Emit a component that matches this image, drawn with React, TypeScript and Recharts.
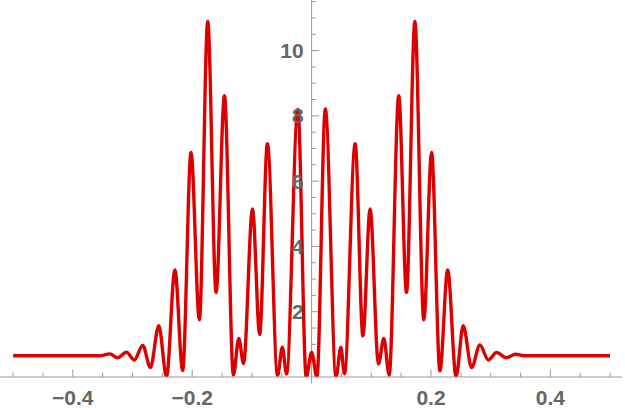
import React from "react";
import { LineChart, Line, XAxis, YAxis, ReferenceLine } from "recharts";

// extrema of the curve (left to right)
const xValues = [
  -0.5, -0.355, -0.338, -0.325, -0.31, -0.297, -0.283, -0.27, -0.256, -0.243,
  -0.229, -0.216, -0.202, -0.188, -0.174, -0.16, -0.146, -0.131, -0.122, -0.114,
  -0.099, -0.087, -0.074, -0.057, -0.049, -0.042, -0.023, -0.009, 0,
  0.009, 0.023, 0.041, 0.049, 0.055, 0.073, 0.086, 0.098, 0.112, 0.121,
  0.13, 0.146, 0.159, 0.173, 0.188, 0.201, 0.215, 0.228, 0.242, 0.254,
  0.268, 0.282, 0.296, 0.31, 0.326, 0.342, 0.355, 0.5,
];
const yValues = [
  0.65, 0.65, 0.71, 0.59, 0.76, 0.52, 0.97, 0.29, 1.57, 0.01,
  3.28, 0.2, 6.88, 1.75, 10.89, 2.59, 8.62, 0.06, 1.18, 0.41,
  5.15, 1.3, 7.15, 0.05, 0.91, 0.09, 8.2, 0, 0.75,
  0, 8.21, 0, 0.91, 0.1, 7.15, 1.26, 5.15, 0.4, 1.18,
  0.06, 8.62, 2.59, 10.89, 1.75, 6.88, 0.19, 3.28, 0.01, 1.57,
  0.29, 0.98, 0.52, 0.75, 0.59, 0.7, 0.65, 0.65,
];

const xTicks = [
  -0.5, -0.45, -0.4, -0.35, -0.3, -0.25, -0.2, -0.15, -0.1, -0.05,
  0.05, 0.1, 0.15, 0.2, 0.25, 0.3, 0.35, 0.4, 0.45, 0.5,
];
const xLabelTicks = [-0.4, -0.2, 0.2, 0.4];
const yMinorTicks = [
  0.5, 1, 1.5, 2.5, 3, 3.5, 4.5, 5, 5.5, 6.5, 7, 7.5, 8.5, 9, 9.5, 10.5, 11, 11.5,
];
const yLabelTicks = [2, 4, 6, 8, 10];

const data = xValues.map((x, i) => ({ x, y: yValues[i] }));

const AXIS = "#999999";
const LABEL = "#666666";
const FONT = "'Liberation Sans', Arial, sans-serif";

const fmt = (v: number) => (v < 0 ? "\u2212" + Math.abs(v) : String(v));

const XTick = (props: any) => {
  const { x, y, payload } = props;
  const v = payload.value;
  const major = xLabelTicks.some((t) => Math.abs(t - v) < 1e-9);
  return (
    <g>
      <line x1={x} x2={x} y1={y} y2={y - (major ? 7.5 : 4.3)} stroke={AXIS} strokeWidth={1} />
      {major && (
        <text
          x={x}
          y={y + 28}
          textAnchor="middle"
          fill={LABEL}
          fontSize={21}
          fontWeight="bold"
          fontFamily={FONT}
        >
          {fmt(v)}
        </text>
      )}
    </g>
  );
};

export default function App() {
  return (
    <div style={{ position: "absolute", left: 0, top: 0 }}>
      <LineChart
        width={625}
        height={412}
        data={data}
        margin={{ top: 0, right: 3, bottom: 0, left: 0 }}
      >
        <XAxis
          dataKey="x"
          type="number"
          domain={[-0.522, 0.52]}
          ticks={xTicks}
          interval={0}
          axisLine={{ stroke: AXIS }}
          tickLine={false}
          tickSize={0}
          tickMargin={0}
          tick={<XTick />}
          height={35}
        />
        <YAxis type="number" domain={[0, 11.55]} hide allowDataOverflow />
        <ReferenceLine
          segment={[{ x: 0, y: -0.2 }, { x: 0, y: 11.55 }]}
          stroke={AXIS}
          ifOverflow="visible"
        />
        {yMinorTicks.map((v) => (
          <ReferenceLine
            key={"m" + v}
            segment={[{ x: 0, y: v }, { x: 0.0072, y: v }]}
            stroke={AXIS}
            ifOverflow="visible"
          />
        ))}
        {yLabelTicks.map((v) => (
          <ReferenceLine
            key={"l" + v}
            segment={[{ x: 0, y: v }, { x: 0.0126, y: v }]}
            stroke={AXIS}
            ifOverflow="visible"
            label={{
              value: String(v),
              position: "left",
              offset: 8,
              fill: LABEL,
              fontSize: 21,
              fontWeight: "bold",
              fontFamily: FONT,
            }}
          />
        ))}
        <Line
          type="monotoneX"
          dataKey="y"
          stroke="#dd0000"
          strokeWidth={3.4}
          strokeLinecap="butt"
          dot={false}
          activeDot={false}
          isAnimationActive={false}
        />
      </LineChart>
    </div>
  );
}
